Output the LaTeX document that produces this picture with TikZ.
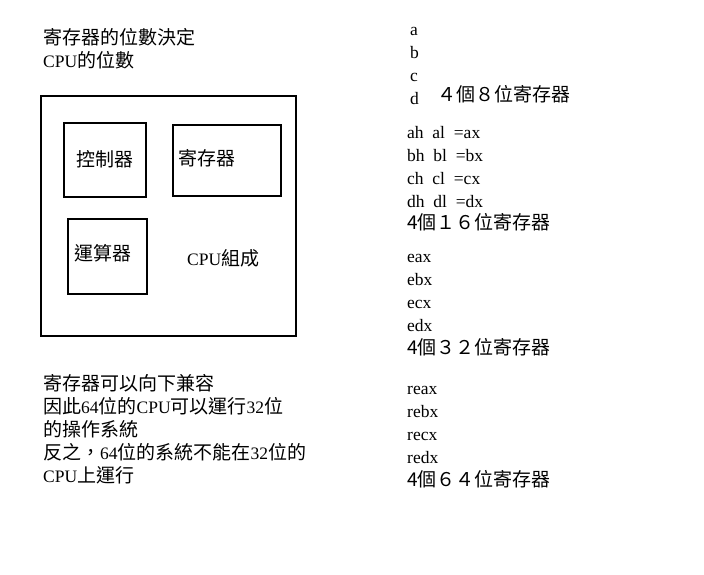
\documentclass[tikz,border=0pt]{standalone}
\usepackage{fontspec}
\setmainfont{Liberation Serif}
\newfontfamily\cjk{Noto Sans CJK TC}
\newcommand\cj[1]{{\cjk\fontsize{19}{23}\selectfont #1}}
\begin{document}
\begin{tikzpicture}[x=1pt,y=-1pt,
  txt/.style={anchor=base west,inner sep=0pt,font=\fontsize{17.5}{23}\selectfont},
  boxln/.style={draw,line width=2.6pt},
  ]
\useasboundingbox (0,0) rectangle (704,574);
% left column
\node[txt] (t1) at (43,44) {\cj{寄存器的位數決定}};
\node[txt] (t2) at (43,67) {CPU\cj{的位數}};
\draw[boxln] (41,96) rectangle (296,336);
\draw[boxln] (64,123) rectangle (146,197);
\draw[boxln] (173,125) rectangle (281,196);
\draw[boxln] (68,219) rectangle (147,294);
\node[txt] (ctrl) at (76,166) {\cj{控制器}};
\node[txt] (reg) at (178,165) {\cj{寄存器}};
\node[txt] (alu) at (74,260) {\cj{運算器}};
\node[txt] (cpu) at (187,265) {CPU\cj{組成}};
\node[txt] (b1) at (43,390) {\cj{寄存器可以向下兼容}};
\node[txt] (b2) at (43,413) {\cj{因此}64\cj{位的}CPU\cj{可以運行}32\cj{位}};
\node[txt] (b3) at (43,436) {\cj{的操作系統}};
\node[txt] (b4) at (43,459) {\cj{反之，}64\cj{位的系統不能在}32\cj{位的}};
\node[txt] (b5) at (43,482) {CPU\cj{上運行}};
% right column
\node[txt] (a) at (410,35) {a};
\node[txt] (b) at (410,58) {b};
\node[txt] (c) at (410,81) {c};
\node[txt] (d) at (410,104) {d};
\node[txt] (r8) at (437,101) {\cj{４個８位寄存器}};
\node[txt] (ax) at (407,138) {ah\ \ al\ \ =ax};
\node[txt] (bx) at (407,161) {bh\ \ bl\ \ =bx};
\node[txt] (cx) at (407,184) {ch\ \ cl\ \ =cx};
\node[txt] (dx) at (407,207) {dh\ \ dl\ \ =dx};
\node[txt] (r16) at (407,229) {\cj{4個１６位寄存器}};
\node[txt] (eax) at (407,262) {eax};
\node[txt] (ebx) at (407,285) {ebx};
\node[txt] (ecx) at (407,308) {ecx};
\node[txt] (edx) at (407,331) {edx};
\node[txt] (r32) at (407,354) {\cj{4個３２位寄存器}};
\node[txt] (reax) at (407,394) {reax};
\node[txt] (rebx) at (407,417) {rebx};
\node[txt] (recx) at (407,440) {recx};
\node[txt] (redx) at (407,463) {redx};
\node[txt] (r64) at (407,486) {\cj{4個６４位寄存器}};
\end{tikzpicture}
\end{document}
